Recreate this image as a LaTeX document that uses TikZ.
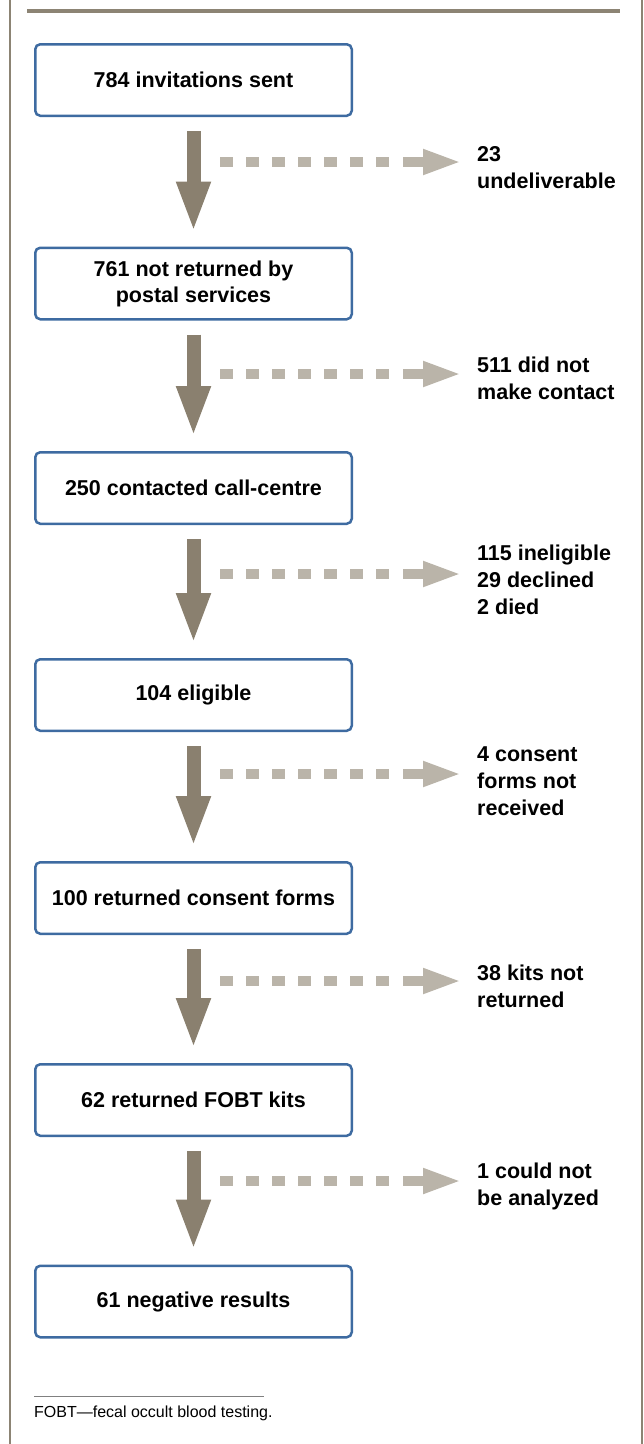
\documentclass[tikz,border=0pt]{standalone}
\usepackage{fontspec}
\setmainfont{Liberation Sans}
\usetikzlibrary{arrows.meta}
\definecolor{boxblue}{HTML}{3E6BA1}
\definecolor{taupe}{HTML}{8A806F}
\definecolor{lighttaupe}{HTML}{BAB4A9}
\definecolor{framegrey}{HTML}{8C8474}

\begin{document}
\begin{tikzpicture}[x=1pt,y=-1pt,
	stagebox/.style={draw=boxblue, line width=2.5pt, rounded corners=5pt, minimum width=316.5pt, minimum height=71.5pt, align=center, inner sep=0pt, font=\fontsize{21.5}{26}\selectfont\bfseries},
	outlabel/.style={anchor=west, align=left, inner sep=0pt, font=\fontsize{21.5}{27}\selectfont\bfseries},
	mainarrow/.style={draw=taupe, line width=14pt, -{Triangle[length=51pt,width=31pt]}, shorten <=14pt, shorten >=14pt},
	sidearrow/.style={draw=lighttaupe, line width=10pt, dash pattern=on 13pt off 13pt on 13pt off 13pt on 13pt off 13pt on 13pt off 13pt on 13pt off 13pt on 13pt off 13pt on 13pt off 14pt on 40pt off 40pt, -{Triangle[length=39pt,width=23pt]}, shorten >=15pt}]
	\useasboundingbox (0,0) rectangle (644,1444);
	% frame
	\draw [framegrey, line width=2pt] (10,0) -- (10,1444);
	\draw [framegrey, line width=2pt] (641.5,0) -- (641.5,1444);
	\draw [framegrey, line width=3.5pt] (27,11) -- (620,11);
	% stages
	\node [stagebox] (sent) at (193.5,80) {784 invitations sent};
	\node [stagebox] (delivered) at (193.5,283.5) {761 not returned by\\postal services};
	\node [stagebox] (contacted) at (193.5,488) {250 contacted call-centre};
	\node [stagebox] (eligible) at (193.5,695) {104 eligible};
	\node [stagebox] (consent) at (193.5,898) {100 returned consent forms};
	\node [stagebox] (kits) at (193.5,1100) {62 returned FOBT kits};
	\node [stagebox] (negative) at (193.5,1301.5) {61 negative results};
	% losses
	\node [outlabel] (undeliv) at (477,168) {23\\undeliverable};
	\node [outlabel] (nocontact) at (477,378) {511 did not\\make contact};
	\node [outlabel] (excluded) at (477,580) {115 ineligible\\29 declined\\2 died};
	\node [outlabel] (noconsent) at (477,781) {4 consent\\forms not\\received};
	\node [outlabel] (nokits) at (477,986) {38 kits not\\returned};
	\node [outlabel] (unanalyzed) at (477,1186) {1 could not\\be analyzed};
	\coordinate (side1) at (220,162);
	\coordinate (side2) at (220,374);
	\coordinate (side3) at (220,574);
	\coordinate (side4) at (220,774);
	\coordinate (side5) at (220,981);
	\coordinate (side6) at (220,1181);
	% arrows
	\draw [mainarrow] (sent) -- (delivered);
	\draw [mainarrow] (delivered) -- (contacted);
	\draw [mainarrow] (contacted) -- (eligible);
	\draw [mainarrow] (eligible) -- (consent);
	\draw [mainarrow] (consent) -- (kits);
	\draw [mainarrow] (kits) -- (negative);
	\draw [sidearrow] (side1) -- (side1 -| undeliv.west);
	\draw [sidearrow] (side2) -- (side2 -| nocontact.west);
	\draw [sidearrow] (side3) -- (side3 -| excluded.west);
	\draw [sidearrow] (side4) -- (side4 -| noconsent.west);
	\draw [sidearrow] (side5) -- (side5 -| nokits.west);
	\draw [sidearrow] (side6) -- (side6 -| unanalyzed.west);
	% footnote
	\draw [gray, line width=0.8pt] (34,1396) -- (264,1396);
	\node [anchor=west, inner sep=0pt, font=\fontsize{16}{19}\selectfont] (fobt) at (34,1413) {FOBT—fecal occult blood testing.};
\end{tikzpicture}
\end{document}
